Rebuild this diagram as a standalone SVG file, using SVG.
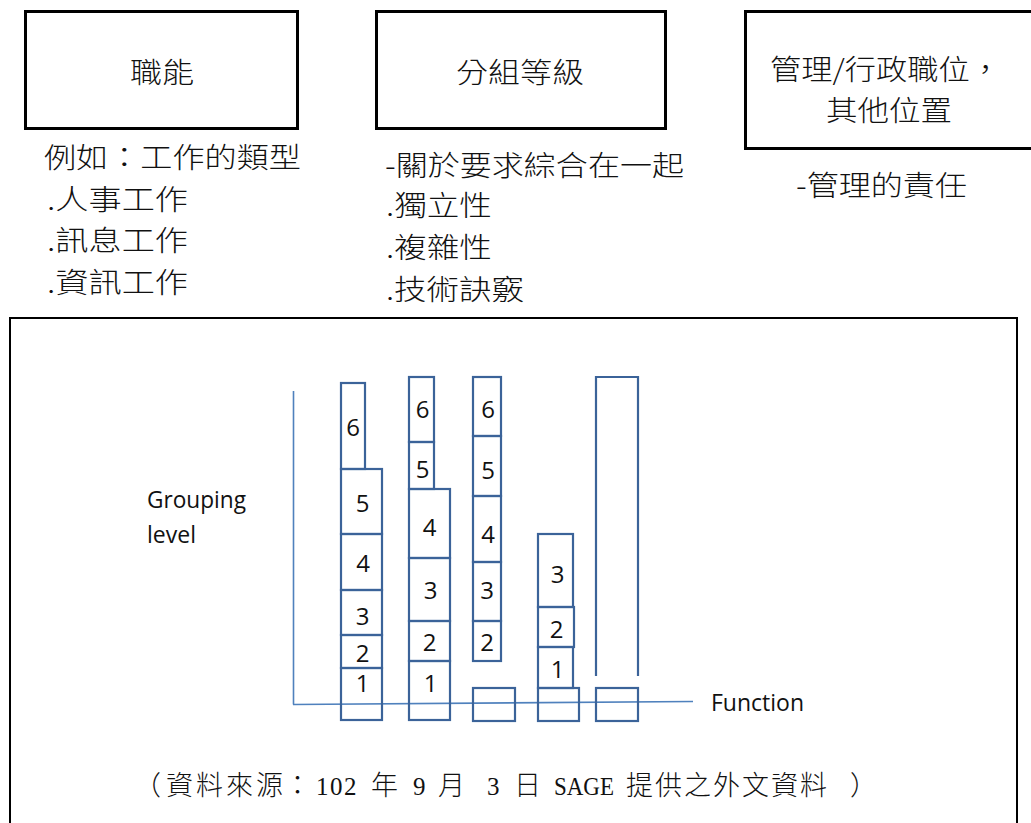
<svg xmlns="http://www.w3.org/2000/svg" width="1031" height="823" viewBox="0 0 1031 823">
<style>
.frame{fill:none;stroke:#000;stroke-width:3}
.outer{fill:none;stroke:#000;stroke-width:2}
.cjk{font-family:"Noto Sans CJK TC","Noto Sans CJK SC",sans-serif;font-size:28px;font-weight:300;fill:#111}
.src{font-family:"Noto Sans CJK TC","Noto Sans CJK SC",sans-serif;font-size:27px;font-weight:300;fill:#111}
.srl{font-family:"Liberation Serif",serif;font-size:25px;fill:#111}
.lat{font-family:"Open Sans","Liberation Sans",sans-serif;font-size:23px;fill:#111}
.num{font-family:"Open Sans","Liberation Sans",sans-serif;font-size:24px;fill:#111;text-anchor:middle}
.blk{fill:none;stroke:#3B6399;stroke-width:2.2}
.axis{fill:none;stroke:#4F81BD;stroke-width:1.6}
</style>
<rect width="1031" height="823" fill="#fff"/>

<g id="node-function">
<rect class="frame" x="25.5" y="11.5" width="272" height="117"/>
<text class="cjk" x="130" y="83" textLength="64" lengthAdjust="spacingAndGlyphs">職能</text>
<text class="cjk" x="44" y="168" textLength="257" lengthAdjust="spacingAndGlyphs">例如：工作的類型</text>
<text class="cjk" x="47" y="210" textLength="141" lengthAdjust="spacingAndGlyphs">.人事工作</text>
<text class="cjk" x="47" y="251" textLength="141" lengthAdjust="spacingAndGlyphs">.訊息工作</text>
<text class="cjk" x="47" y="293" textLength="141" lengthAdjust="spacingAndGlyphs">.資訊工作</text>
</g>

<g id="node-grouping">
<rect class="frame" x="376.5" y="11.5" width="289" height="117"/>
<text class="cjk" x="456" y="83" textLength="128" lengthAdjust="spacingAndGlyphs">分組等級</text>
<text class="cjk" x="385" y="176" textLength="299" lengthAdjust="spacingAndGlyphs">-關於要求綜合在一起</text>
<text class="cjk" x="386" y="216" textLength="106" lengthAdjust="spacingAndGlyphs">.獨立性</text>
<text class="cjk" x="386" y="258" textLength="106" lengthAdjust="spacingAndGlyphs">.複雜性</text>
<text class="cjk" x="386" y="300" textLength="138" lengthAdjust="spacingAndGlyphs">.技術訣竅</text>
</g>

<g id="node-management">
<rect class="frame" x="745.5" y="11.5" width="300" height="137"/>
<text class="cjk" x="770" y="80" textLength="231" lengthAdjust="spacingAndGlyphs">管理/行政職位，</text>
<text class="cjk" x="826" y="121" textLength="126" lengthAdjust="spacingAndGlyphs">其他位置</text>
<text class="cjk" x="796" y="196" textLength="171" lengthAdjust="spacingAndGlyphs">-管理的責任</text>
</g>

<g id="chart-frame">
<rect class="outer" x="10" y="318" width="1007" height="520"/>
<text class="src" y="795"><tspan x="134">（</tspan><tspan x="166 196 226 256">資料來源</tspan><tspan x="284">：</tspan><tspan class="srl" x="316 330 344">102</tspan><tspan x="371">年</tspan><tspan class="srl" x="413">9</tspan><tspan x="438">月</tspan><tspan class="srl" x="487">3</tspan><tspan x="514">日</tspan><tspan class="srl" x="554" textLength="60" lengthAdjust="spacingAndGlyphs">SAGE</tspan><tspan x="626 655 684 713 742 771 800">提供之外文資料</tspan><tspan x="850">）</tspan></text>
</g>

<g id="connectors">
<line class="axis" x1="293.5" y1="391" x2="293.5" y2="704.5"/>
<line class="axis" x1="293" y1="704.5" x2="693" y2="701.5"/>
</g>

<g id="axis-labels">
<text class="lat" x="147" y="508" textLength="99" lengthAdjust="spacingAndGlyphs">Grouping</text>
<text class="lat" x="147" y="543">level</text>
<text class="lat" x="711" y="711" textLength="93" lengthAdjust="spacingAndGlyphs">Function</text>
</g>

<g id="column-1">
<rect class="blk" x="341" y="383" width="24" height="86"/>
<rect class="blk" x="341" y="469" width="41" height="65"/>
<rect class="blk" x="341" y="534" width="41" height="56"/>
<rect class="blk" x="341" y="590" width="41" height="45"/>
<rect class="blk" x="341" y="635" width="41" height="33"/>
<rect class="blk" x="341" y="668" width="41" height="52"/>
<text class="num" x="353" y="436">6</text>
<text class="num" x="362.5" y="512">5</text>
<text class="num" x="363" y="572">4</text>
<text class="num" x="362.5" y="624.5">3</text>
<text class="num" x="362.5" y="661.5">2</text>
<text class="num" x="362.5" y="692">1</text>
</g>

<g id="column-2">
<rect class="blk" x="409" y="377" width="25" height="65"/>
<rect class="blk" x="409" y="442" width="25" height="47"/>
<rect class="blk" x="409" y="489" width="41" height="69"/>
<rect class="blk" x="409" y="558" width="41" height="63"/>
<rect class="blk" x="409" y="621" width="41" height="40"/>
<rect class="blk" x="409" y="661" width="41" height="59"/>
<text class="num" x="422.5" y="418">6</text>
<text class="num" x="422.5" y="477.5">5</text>
<text class="num" x="429.5" y="535.5">4</text>
<text class="num" x="430.5" y="598.5">3</text>
<text class="num" x="429.5" y="650.5">2</text>
<text class="num" x="430.5" y="691.5">1</text>
</g>

<g id="column-3">
<rect class="blk" x="473" y="377" width="28" height="59"/>
<rect class="blk" x="473" y="436" width="28" height="60"/>
<rect class="blk" x="473" y="496" width="28" height="66"/>
<rect class="blk" x="473" y="562" width="28" height="59"/>
<rect class="blk" x="473" y="621" width="28" height="40"/>
<rect class="blk" x="473" y="688" width="42" height="33"/>
<text class="num" x="488" y="417.5">6</text>
<text class="num" x="488" y="479">5</text>
<text class="num" x="488" y="542.5">4</text>
<text class="num" x="487" y="599">3</text>
<text class="num" x="487" y="650.5">2</text>
</g>

<g id="column-4">
<rect class="blk" x="538" y="534" width="35" height="73"/>
<rect class="blk" x="538" y="607" width="36" height="40"/>
<rect class="blk" x="538" y="647" width="35" height="41"/>
<rect class="blk" x="538" y="688" width="41" height="33"/>
<text class="num" x="557.5" y="582.5">3</text>
<text class="num" x="556.5" y="637.5">2</text>
<text class="num" x="557.5" y="677.5">1</text>
</g>

<g id="column-5">
<path class="blk" d="M596,676 V377 H638 V676"/>
<rect class="blk" x="596" y="688" width="42" height="33"/>
</g>
</svg>
